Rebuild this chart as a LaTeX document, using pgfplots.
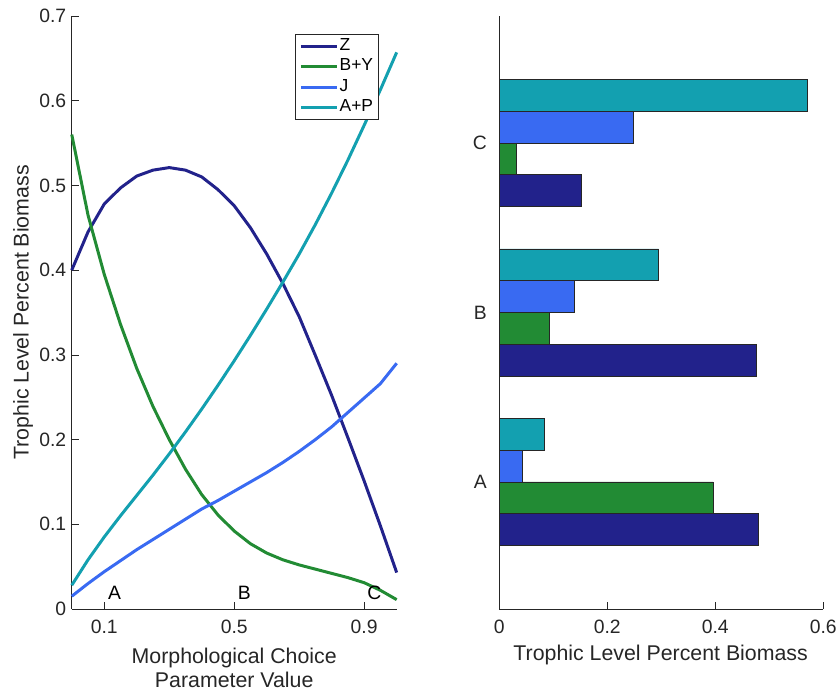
\documentclass[border=0pt]{standalone}
\usepackage{fontspec}
\setmainfont{Liberation Sans}
\usepackage{pgfplots}
\pgfplotsset{compat=1.18}

\definecolor{cZ}{RGB}{34,34,139}
\definecolor{cBY}{RGB}{34,139,52}
\definecolor{cJ}{RGB}{57,106,242}
\definecolor{cAP}{RGB}{19,160,176}
\definecolor{axgray}{gray}{0.15}

\newcommand{\tickfont}{\fontsize{19.4}{23}\selectfont}
\newcommand{\labfont}{\fontsize{21.4}{23.5}\selectfont}

\pgfplotsset{
  mat/.style={
    scale only axis,
    axis lines=left,
    axis line style={-, axgray, line width=0.6pt},
    tick align=inside,
    major tick length=7pt,
    tick style={axgray, line width=0.6pt},
    every tick label/.append style={font=\tickfont, text=axgray},
    xticklabel style={yshift=-8pt},
    yticklabel style={xshift=-2pt},
    label style={font=\labfont, text=axgray},
    /pgf/number format/assume math mode=true,
    clip=false,
  },
}

\begin{document}
\begin{tikzpicture}
\path (0pt,0pt) rectangle (840pt,692pt);

% left: curves
\begin{axis}[mat,
  at={(72pt,81pt)}, anchor=south west,
  width=326pt, height=595pt,
  xmin=0, xmax=1, ymin=0, ymax=0.7,
  xtick={0.1,0.5,0.9},
  ytick={0,0.1,...,0.7},
  xlabel={Morphological Choice\\Parameter Value},
  xlabel style={align=center, at={(axis description cs:0.5,-0.099)}, anchor=center},
  ylabel={Trophic Level Percent Biomass},
  ylabel style={at={(axis description cs:-0.15,0.5)}, anchor=center},
  every axis plot/.append style={line width=3pt, line join=round},
  legend cell align=left,
  legend style={at={(0.687,0.970)}, anchor=north west,
    draw=axgray, line width=0.6pt, font=\fontsize{17.5}{19}\selectfont,
    inner xsep=4pt, inner ysep=2pt,
    nodes={inner sep=1.5pt, text height=13pt, text depth=4.5pt}},
  legend image code/.code={\draw[#1] (0pt,0pt) -- (36pt,0pt);},
]
\addplot[cZ] coordinates {
(0,0.400) (0.05,0.445) (0.1,0.478) (0.15,0.497) (0.2,0.511) (0.25,0.518)
(0.3,0.521) (0.35,0.518) (0.4,0.510) (0.45,0.495) (0.5,0.476) (0.55,0.450)
(0.6,0.419) (0.65,0.384) (0.7,0.345) (0.75,0.299) (0.8,0.252) (0.85,0.202)
(0.9,0.151) (0.95,0.098) (1.0,0.043)};
\addlegendentry{Z}
\addplot[cBY] coordinates {
(0,0.560) (0.05,0.465) (0.1,0.395) (0.15,0.336) (0.2,0.284) (0.25,0.239)
(0.3,0.200) (0.35,0.165) (0.4,0.135) (0.45,0.111) (0.5,0.092) (0.55,0.077)
(0.6,0.066) (0.65,0.058) (0.7,0.052) (0.75,0.047) (0.8,0.042) (0.85,0.037)
(0.9,0.031) (0.95,0.022) (1.0,0.011)};
\addlegendentry{B+Y}
\addplot[cJ] coordinates {
(0,0.015) (0.05,0.030) (0.1,0.044) (0.15,0.057) (0.2,0.070) (0.25,0.082)
(0.3,0.094) (0.35,0.106) (0.4,0.118) (0.45,0.128) (0.5,0.139) (0.55,0.150)
(0.6,0.161) (0.65,0.173) (0.7,0.186) (0.75,0.200) (0.8,0.215) (0.85,0.232)
(0.9,0.249) (0.95,0.266) (1.0,0.290)};
\addlegendentry{J}
\addplot[cAP] coordinates {
(0,0.028) (0.05,0.058) (0.1,0.085) (0.15,0.110) (0.2,0.134) (0.25,0.158)
(0.3,0.183) (0.35,0.209) (0.4,0.236) (0.45,0.264) (0.5,0.293) (0.55,0.323)
(0.6,0.354) (0.65,0.386) (0.7,0.419) (0.75,0.454) (0.8,0.491) (0.85,0.530)
(0.9,0.571) (0.95,0.613) (1.0,0.657)};
\addlegendentry{A+P}
\node[font=\tickfont, text=black, inner sep=0pt] at (axis cs:0.132,0.0188) {A};
\node[font=\tickfont, text=black, inner sep=0pt] at (axis cs:0.531,0.0188) {B};
\node[font=\tickfont, text=black, inner sep=0pt] at (axis cs:0.931,0.0188) {C};
\end{axis}

% right: bars
\begin{axis}[mat,
  at={(501pt,81pt)}, anchor=south west,
  width=325pt, height=595pt,
  xmin=0, xmax=0.6, ymin=0.25, ymax=3.75,
  xtick={0,0.2,0.4,0.6},
  ytick={1,2,3}, yticklabels={A,B,C},
  y tick style={draw=none},
  xlabel={Trophic Level Percent Biomass},
  xlabel style={at={(axis description cs:0.498,-0.077)}, anchor=center},
  xbar, bar width=0.1875,
  every axis plot/.append style={draw=axgray, line width=0.6pt},
]
\addplot[fill=cZ, bar shift=-0.28125] coordinates {(0.479,1) (0.476,2) (0.151,3)};
\addplot[fill=cBY, bar shift=-0.09375] coordinates {(0.396,1) (0.092,2) (0.031,3)};
\addplot[fill=cJ, bar shift=0.09375] coordinates {(0.043,1) (0.139,2) (0.249,3)};
\addplot[fill=cAP, bar shift=0.28125] coordinates {(0.084,1) (0.295,2) (0.570,3)};
\end{axis}
\end{tikzpicture}
\end{document}
